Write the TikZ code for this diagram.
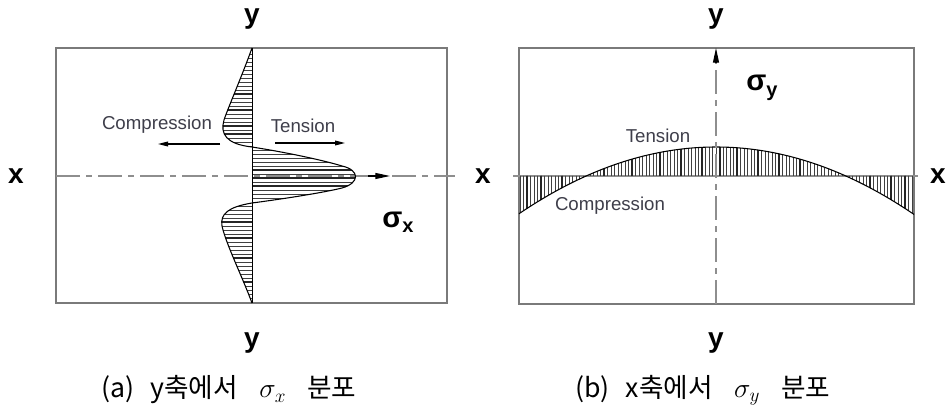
\documentclass[tikz,border=0pt]{standalone}
\usepackage{fontspec}
\setmainfont{Liberation Sans}
\newfontfamily\krfont{Noto Sans CJK KR}
\usetikzlibrary{arrows.meta}
\definecolor{boxgrey}{HTML}{7A7A7A}
\definecolor{axgrey}{HTML}{8E8E8E}
\definecolor{txtgrey}{HTML}{3E3E4A}
\begin{document}
\begin{tikzpicture}[x=0.75pt,y=-0.75pt,
  axlbl/.style={font=\bfseries\fontsize{21}{21}\selectfont, inner sep=0pt},
  sig/.style={font=\bfseries\fontsize{22}{22}\selectfont, inner sep=0pt},
  txt/.style={font=\fontsize{14}{14}\selectfont, text=txtgrey, inner sep=0pt},
  captxt/.style={font=\krfont\fontsize{20}{20}\selectfont, inner sep=0pt},
  boxln/.style={draw=boxgrey, line width=1.1pt},
  dashdot/.style={draw=axgrey, line width=0.8pt, dash pattern=on 18pt off 4.5pt on 4.5pt off 4.5pt},
  hatch/.style={line width=0.35pt, draw=black!75},
  hatchb/.style={line width=0.8pt, draw=black!85},
  curveln/.style={line width=0.8pt, draw=black},
  tip/.style={-{Triangle[length=7.5pt,width=3.6pt]}, line width=0.8pt},
  bigtip/.style={-{Triangle[length=11pt,width=4.5pt]}, line width=0.8pt}
]
\useasboundingbox (0,0) rectangle (946,409);

% ---------------- left panel ----------------
\draw[boxln] (56,48) rectangle (447,303);
\coordinate (lxa) at (56,176);
\coordinate (lxb) at (455,176);
\draw[dashdot] (lxa) -- (lxb);

\def\leftcurve{(252,48) .. controls (242,76) and (228,108) .. (224,120)
  .. controls (220,134) and (226,144) .. (252,147)
  .. controls (290,153) and (326,161) .. (342,166)
  .. controls (360,170) and (360,183) .. (342,188)
  .. controls (326,192) and (290,198) .. (252,203)
  .. controls (228,207) and (220,214) .. (222,226)
  .. controls (226,244) and (242,276) .. (252,303)}
\begin{scope}
  \clip \leftcurve -- (252,48) -- cycle;
  \foreach \yy in {50,54,...,302} \draw[hatch] (210,\yy) -- (365,\yy);
  \foreach \yy in {94,110,126,134,170,178,186,222,238,258,282} \draw[hatchb] (210,\yy) -- (365,\yy);
\end{scope}
\draw[curveln] \leftcurve;
\draw[line width=0.6pt] (252,48) -- (252,303);

\coordinate (lta) at (368,176);
\coordinate (ltb) at (390,176);
\draw[bigtip] (lta) -- (ltb);
\coordinate (lca) at (220,144);
\coordinate (lcb) at (158,144);
\draw[tip] (lca) -- (lcb);
\coordinate (lea) at (275,143);
\coordinate (leb) at (345,143);
\draw[tip] (lea) -- (leb);

\node[axlbl] (lyt) at (252,19) {y};
\node[axlbl] (lx) at (16,176) {x};
\node[axlbl] (lyb) at (252,343) {y};
\node[sig] (lsig) at (398,222) {σ\raisebox{-0.35ex}{\fontsize{15}{15}\selectfont x}};
\node[txt] (lcomp) at (157,125) {Compression};
\node[txt] (lten) at (303,126) {Tension};
\node[captxt] (lcap) at (229,390) {(a)\hspace{0.6em}y축에서\hspace{0.8em}$\sigma_x$\hspace{0.8em}분포};

% ---------------- right panel ----------------
\draw[boxln] (519,48) rectangle (914,304);
\coordinate (rxa) at (513,176);
\coordinate (rxb) at (918,176);
\draw[draw=axgrey, line width=0.8pt] (rxa) -- (rxb);

\begin{scope}
  \clip plot[domain=519:914, samples=80] (\x, {147+(0.04147*(\x-716))^2}) -- (914,176) -- (519,176) -- cycle;
  \foreach \xx in {520,523.5,...,914} \draw[hatch] (\xx,140) -- (\xx,220);
  \foreach \xx in {527,541,562,604,632,660,681,702,720,737,758,779,800,870,891,905} \draw[hatchb] (\xx,140) -- (\xx,220);
\end{scope}
\draw[curveln] plot[domain=519:914, samples=80] (\x, {147+(0.04147*(\x-716))^2});

\coordinate (rya) at (716,304);
\coordinate (ryb) at (716,62);
\coordinate (ryc) at (716,48);
\draw[dashdot] (rya) -- (ryb);
\draw[bigtip] (ryb) -- (ryc);

\node[axlbl] (ryt) at (716,19) {y};
\node[axlbl] (rxl) at (483,176) {x};
\node[axlbl] (rxr) at (938,176) {x};
\node[axlbl] (ryb2) at (716,343) {y};
\node[sig] (rsig) at (762,88) {σ\raisebox{-0.35ex}{\fontsize{15}{15}\selectfont y}};
\node[txt] (rten) at (658,136) {Tension};
\node[txt] (rcomp) at (610,206) {Compression};
\node[captxt] (rcap) at (703,390) {(b)\hspace{0.6em}x축에서\hspace{0.8em}$\sigma_y$\hspace{0.8em}분포};
\end{tikzpicture}
\end{document}
